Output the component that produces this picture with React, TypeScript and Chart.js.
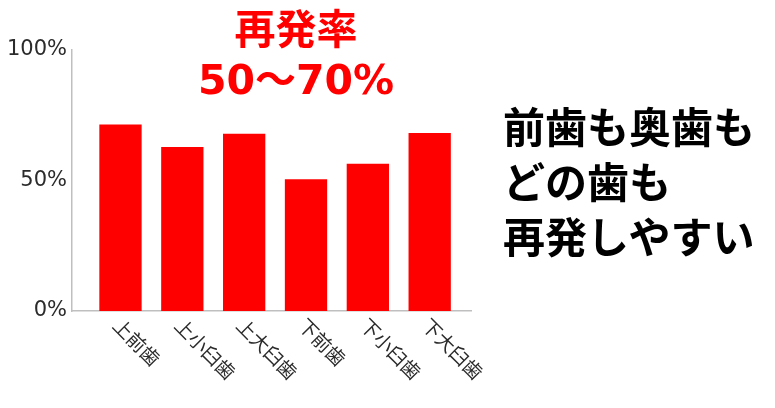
import React, { useEffect, useRef } from 'react';
import { Chart, registerables } from 'chart.js';

Chart.register(...registerables);

// 部位ごとの再発率 (%)
const categories = ['上前歯', '上小臼歯', '上大臼歯', '下前歯', '下小臼歯', '下大臼歯'];
const rates = [71.5, 62.8, 67.9, 50.5, 56.4, 68.2];
const yTicks = [0, 50, 100];

const titleLines = ['再発率', '50～70%'];
const noteLines = ['前歯も奥歯も', 'どの歯も', '再発しやすい'];

const RED = '#ff0000';
const AXIS = '#bfbfbf';
const TEXT = '#2b2b2b';

// x軸ラベルを右下向き45°で描く
const slantLabels = {
  id: 'slantLabels',
  afterDraw(chart: Chart) {
    const { ctx, scales } = chart;
    const x = scales.x;
    const y = scales.y;
    ctx.save();
    ctx.fillStyle = TEXT;
    ctx.font = '19px "Noto Sans CJK JP"';
    ctx.textAlign = 'left';
    ctx.textBaseline = 'middle';
    categories.forEach((label, i) => {
      const px = x.getPixelForValue(i) - 4;
      const py = y.getPixelForValue(0) + 11;
      ctx.save();
      ctx.translate(px, py);
      ctx.rotate(Math.PI / 4);
      ctx.fillText(label, 0, 0);
      ctx.restore();
    });
    ctx.restore();
  }
};

const RecurrenceChart: React.FC = () => {
  const chartRef = useRef<HTMLCanvasElement>(null);
  const chartInstance = useRef<Chart | null>(null);

  useEffect(() => {
    if (!chartRef.current) return;
    if (chartInstance.current) {
      chartInstance.current.destroy();
    }
    const ctx = chartRef.current.getContext('2d');
    if (!ctx) return;

    chartInstance.current = new Chart(ctx, {
      type: 'bar',
      data: {
        datasets: [{
          label: '再発率',
          data: rates.map((v, i) => ({ x: i, y: v })),
          backgroundColor: RED,
          borderWidth: 0,
          barPercentage: 1,
          categoryPercentage: 0.684
        }]
      },
      options: {
        responsive: true,
        maintainAspectRatio: false,
        animation: false,
        layout: {
          padding: { left: 0, top: 50, right: 304, bottom: 97 }
        },
        plugins: {
          legend: { display: false },
          tooltip: { enabled: false }
        },
        scales: {
          x: {
            type: 'linear',
            offset: false,
            min: -0.784,
            max: 5.668,
            grid: { display: false, drawTicks: false },
            border: { display: true, color: AXIS, width: 1.5 },
            ticks: { display: false },
            afterFit: (s: any) => { s.height = 0; }
          },
          y: {
            min: 0,
            max: 100,
            afterBuildTicks: (s: any) => { s.ticks = yTicks.map(v => ({ value: v })); },
            grid: { display: false, drawTicks: false },
            border: { display: true, color: AXIS, width: 1.5 },
            ticks: {
              padding: 5,
              color: TEXT,
              font: { family: '"DejaVu Sans"', size: 21 },
              callback: (v: any) => `${v}%`
            },
            afterFit: (s: any) => { s.width = 72; }
          }
        }
      },
      plugins: [slantLabels]
    });

    return () => {
      if (chartInstance.current) {
        chartInstance.current.destroy();
        chartInstance.current = null;
      }
    };
  }, []);

  return (
    <div style={{ position: 'absolute', left: 0, top: 0, width: 775, height: 408, background: '#fff' }}>
      <canvas ref={chartRef} />
      <div style={{
        position: 'absolute', left: 196, top: 5, width: 200, textAlign: 'center',
        font: 'bold 41px "DejaVu Sans", "Noto Sans CJK JP"', lineHeight: '50px', color: RED, whiteSpace: 'nowrap'
      }}>
        {titleLines.map(t => <div key={t}>{t}</div>)}
      </div>
      <div style={{
        position: 'absolute', left: 503, top: 97, textAlign: 'left',
        font: 'bold 42px "Noto Sans CJK JP"', lineHeight: '55px', color: '#000', whiteSpace: 'nowrap'
      }}>
        {noteLines.map(t => <div key={t}>{t}</div>)}
      </div>
    </div>
  );
};

export default function App() {
  return <RecurrenceChart />;
}
